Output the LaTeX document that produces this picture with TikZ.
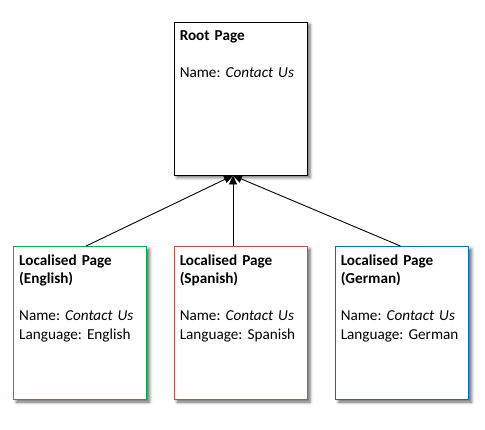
\documentclass[tikz,border=0pt]{standalone}
\usepackage{fontspec}
\setmainfont{Carlito}
\usetikzlibrary{arrows.meta,shadows.blur}
\definecolor{engreen}{HTML}{00B050}
\definecolor{esred}{HTML}{C0504D}
\definecolor{deblue}{HTML}{0070C0}
\begin{document}
\begin{tikzpicture}[x=1pt,y=-1pt,
  page/.style={draw, line width=0.9pt, fill=white, minimum width=133pt, minimum height=153pt, inner sep=0pt,
    blur shadow={shadow xshift=3pt, shadow yshift=-2.5pt, shadow blur radius=3pt, shadow opacity=60}},
  txt/.style={anchor=base west, inner sep=0pt, text width=125pt, align=left,
    font=\fontsize{15.2pt}{18.4pt}\selectfont\frenchspacing},
  arr/.style={line width=0.9pt, -{Triangle[length=9pt,width=8pt]}}]
\useasboundingbox (0,0) rectangle (485,429);
\node[page] (root) at (240.5,98.5) {};
\node[page, draw=engreen] (en) at (80,323) {};
\node[page, draw=esred] (es) at (240.5,323) {};
\node[page, draw=deblue] (de) at (402,323) {};
\node[txt] (roott) at ([xshift=6pt,yshift=-19pt]root.north west) {\textbf{Root Page}\\[18.4pt]Name: \textit{Contact Us}};
\node[txt] (ent) at ([xshift=6pt,yshift=-19.5pt]en.north west) {\textbf{Localised Page}\\\textbf{(English)}\\[18.4pt]Name: \textit{Contact Us}\\Language: English};
\node[txt] (est) at ([xshift=6pt,yshift=-19.5pt]es.north west) {\textbf{Localised Page}\\\textbf{(Spanish)}\\[18.4pt]Name: \textit{Contact Us}\\Language: Spanish};
\node[txt] (det) at ([xshift=5.5pt,yshift=-19.5pt]de.north west) {\textbf{Localised Page}\\\textbf{(German)}\\[18.4pt]Name: \textit{Contact Us}\\Language: German};
\draw[arr] ([xshift=6pt]en.north) -- ([xshift=-7.5pt]root.south);
\draw[arr] ([xshift=-7.5pt]es.north) -- ([xshift=-7.5pt]root.south);
\draw[arr] ([xshift=-1.5pt]de.north) -- ([xshift=-7.5pt]root.south);
\end{tikzpicture}
\end{document}
